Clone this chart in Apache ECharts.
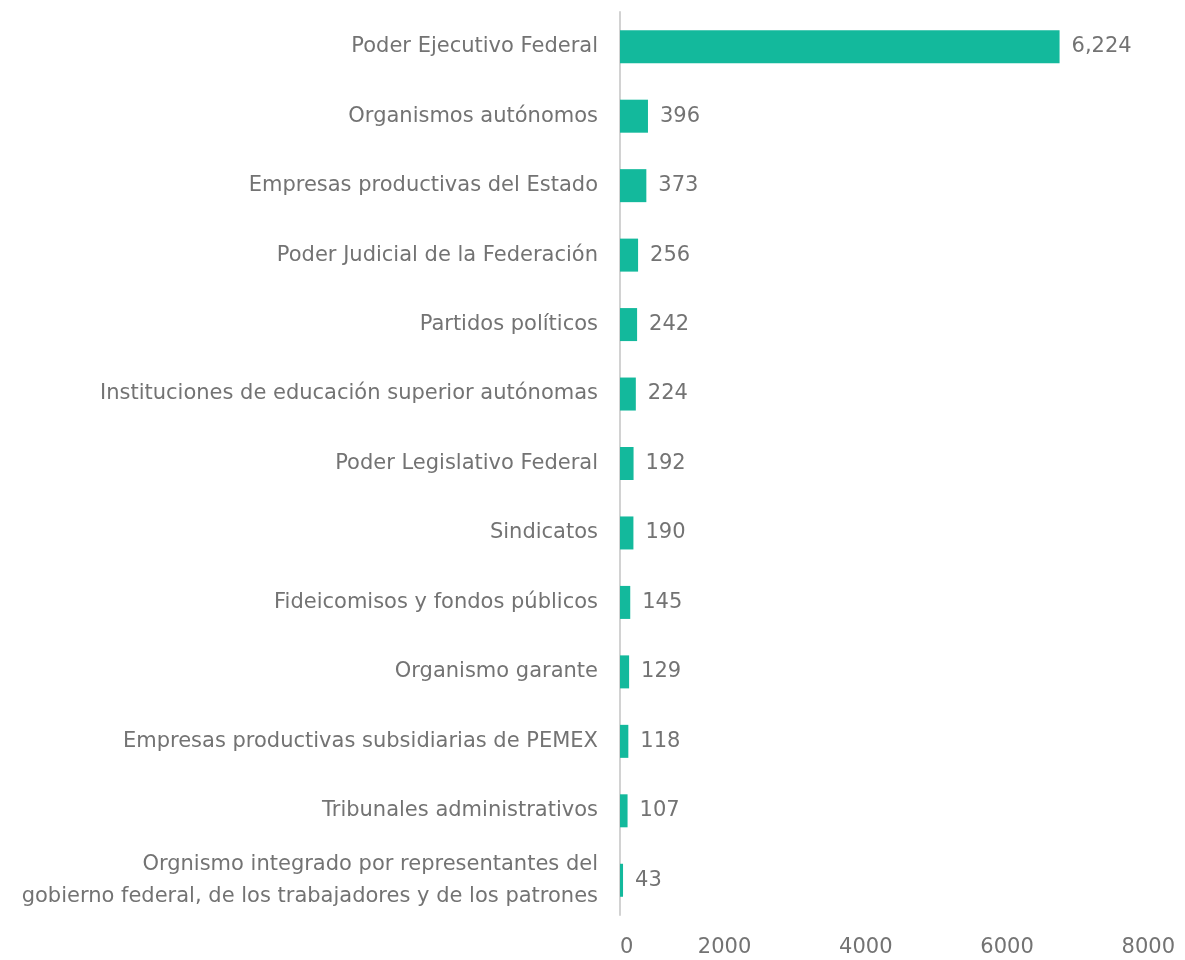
<!DOCTYPE html>
<html>
<head>
<meta charset="utf-8">
<script src="https://cdn.jsdelivr.net/npm/echarts@6/dist/echarts.min.js"></script>
<style>
  html, body { margin: 0; padding: 0; background: #fff; }
  #chart { width: 1185px; height: 960px; }
</style>
</head>
<body>
<div id="chart"></div>
<script>
// categories, top to bottom
const categories = [
  'Poder Ejecutivo Federal',
  'Organismos autónomos',
  'Empresas productivas del Estado',
  'Poder Judicial de la Federación',
  'Partidos políticos',
  'Instituciones de educación superior autónomas',
  'Poder Legislativo Federal',
  'Sindicatos',
  'Fideicomisos y fondos públicos',
  'Organismo garante',
  'Empresas productivas subsidiarias de PEMEX',
  'Tribunales administrativos',
  'Orgnismo integrado por representantes del\ngobierno federal, de los trabajadores y de los patrones'
];
const values = [6224, 396, 373, 256, 242, 224, 192, 190, 145, 129, 118, 107, 43];
const xTicks = [0, 2000, 4000, 6000, 8000];

const textColor = '#737373';
const font = 'DejaVu Sans';

const chart = echarts.init(document.getElementById('chart'));

chart.setOption({
  animation: false,
  grid: { left: 620, top: 12, right: -4, bottom: 45, containLabel: false },
  xAxis: {
    type: 'value',
    min: xTicks[0],
    max: xTicks[xTicks.length - 1],
    interval: 2000,
    splitLine: { show: false },
    axisLine: { show: false },
    axisTick: { show: false },
    axisLabel: {
      color: textColor,
      fontFamily: font,
      fontSize: 21,
      margin: 22,
      align: 'right',
      padding: [0, 10, 0, 0],
      alignMinLabel: 'left',
      formatter: v => String(v)
    }
  },
  yAxis: {
    type: 'category',
    inverse: true,
    data: categories,
    axisLine: { lineStyle: { color: '#d2d2d2', width: 2 } },
    axisTick: { show: false },
    axisLabel: {
      color: textColor,
      fontFamily: font,
      fontSize: 21,
      margin: 22,
      lineHeight: 32
    }
  },
  series: [{
    type: 'bar',
    data: values,
    barWidth: 33,
    itemStyle: { color: '#13b99c' },
    label: {
      show: true,
      position: 'right',
      distance: 12,
      color: textColor,
      fontFamily: font,
      fontSize: 21,
      formatter: p => p.value.toLocaleString('en-US')
    }
  }]
});
</script>
</body>
</html>
